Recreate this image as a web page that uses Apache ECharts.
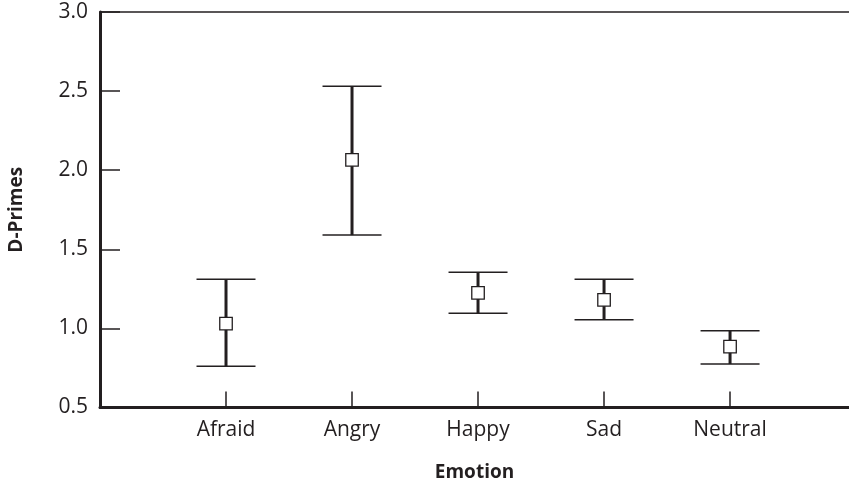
<!DOCTYPE html>
<html>
<head>
<meta charset="utf-8">
<script src="https://cdn.jsdelivr.net/npm/echarts@6/dist/echarts.min.js"></script>
<style>
html,body{margin:0;padding:0;background:#fff;}
#chart{width:849px;height:479px;}
</style>
</head>
<body>
<div id="chart"></div>
<script>
const categories = ['Afraid', 'Angry', 'Happy', 'Sad', 'Neutral'];
const means = [1.03, 2.065, 1.225, 1.18, 0.885];
const lower = [0.76, 1.59, 1.095, 1.055, 0.775];
const upper = [1.31, 2.53, 1.355, 1.31, 0.985];
const yMin = 0.5, yMax = 3.0, yStep = 0.5;
const xMin = 0, xMax = 5.944;

const ink = '#231f20';
const font = '"Open Sans", "Noto Sans", sans-serif';

const data = categories.map((c, i) => [i + 1, lower[i], upper[i], means[i]]);

const chart = echarts.init(document.getElementById('chart'), null, {renderer: 'canvas'});
chart.setOption({
  animation: false,
  backgroundColor: '#fff',
  grid: {left: 100, right: 0, top: 12, bottom: 71.5, containLabel: false, outerBoundsMode: 'none'},
  xAxis: [{
    type: 'value', min: xMin, max: xMax, interval: 1,
    name: 'Emotion', nameLocation: 'middle', nameGap: 56,
    nameTextStyle: {fontFamily: font, fontSize: 19, fontWeight: 'bold', color: ink},
    axisLine: {show: true, lineStyle: {color: ink, width: 3}},
    axisTick: {show: true, inside: true, length: 16, lineStyle: {color: ink, width: 1.5}},
    axisLabel: {
      margin: 12, fontFamily: font, fontSize: 21, color: ink, showMaxLabel: false,
      formatter: v => (v >= 1 && v <= categories.length) ? categories[v - 1] : ''
    },
    splitLine: {show: false}
  }, {
    type: 'value', position: 'top', min: xMin, max: xMax,
    axisLine: {show: true, lineStyle: {color: ink, width: 1.5}},
    axisTick: {show: false}, axisLabel: {show: false}, splitLine: {show: false}
  }],
  yAxis: {
    type: 'value', min: yMin, max: yMax, interval: yStep,
    name: 'D-Primes', nameLocation: 'middle', nameGap: 74, nameRotate: 90,
    nameTextStyle: {fontFamily: font, fontSize: 19, fontWeight: 'bold', color: ink},
    axisLine: {show: true, lineStyle: {color: ink, width: 3}},
    axisTick: {show: true, inside: true, length: 20, lineStyle: {color: ink, width: 1.5}},
    axisLabel: {margin: 12, fontFamily: font, fontSize: 21, color: ink, formatter: v => v.toFixed(1)},
    splitLine: {show: false}
  },
  series: [{
    type: 'custom',
    data: data,
    encode: {x: 0, y: [1, 2, 3]},
    renderItem: function (params, api) {
      const x = api.value(0);
      const lo = api.coord([x, api.value(1)]);
      const hi = api.coord([x, api.value(2)]);
      const m = api.coord([x, api.value(3)]);
      const hw = 29.5, sq = 12.5;
      return {
        type: 'group',
        children: [
          {type: 'line', shape: {x1: lo[0], y1: lo[1], x2: hi[0], y2: hi[1]}, style: {stroke: ink, lineWidth: 3}},
          {type: 'line', shape: {x1: hi[0] - hw, y1: hi[1], x2: hi[0] + hw, y2: hi[1]}, style: {stroke: ink, lineWidth: 1.5}},
          {type: 'line', shape: {x1: lo[0] - hw, y1: lo[1], x2: lo[0] + hw, y2: lo[1]}, style: {stroke: ink, lineWidth: 1.5}},
          {type: 'rect', shape: {x: m[0] - sq / 2, y: m[1] - sq / 2, width: sq, height: sq}, style: {fill: '#fff', stroke: ink, lineWidth: 1.3}}
        ]
      };
    }
  }]
});
</script>
</body>
</html>
